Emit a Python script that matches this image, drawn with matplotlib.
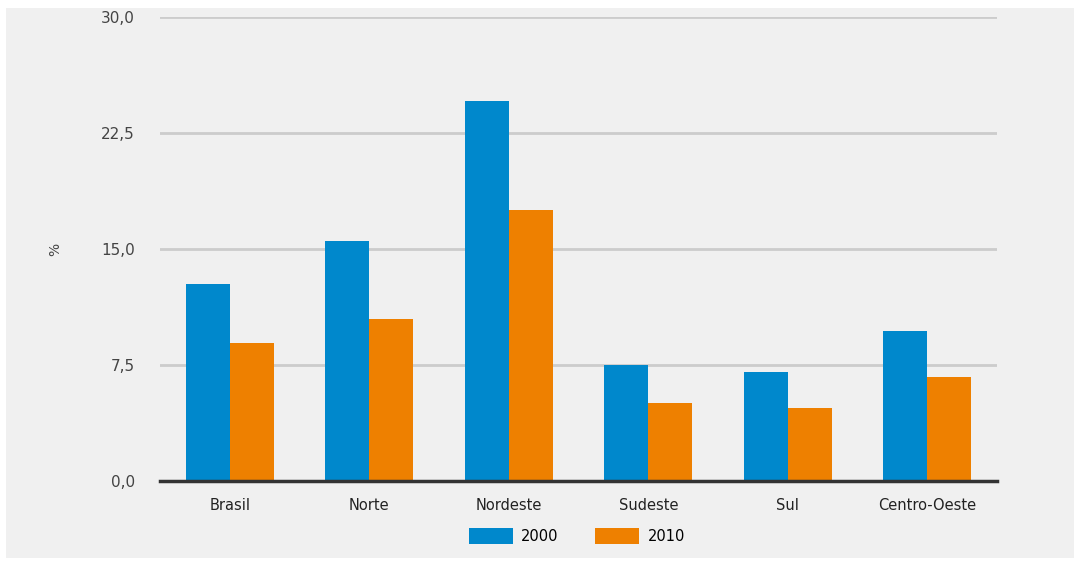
import numpy as np
import matplotlib.pyplot as plt
from matplotlib.patches import Rectangle, Patch
from matplotlib.ticker import FuncFormatter

regioes = ["Brasil", "Norte", "Nordeste", "Sudeste", "Sul", "Centro-Oeste"]
v2000 = [12.75, 15.5, 24.6, 7.5, 7.05, 9.7]
v2010 = [8.9, 10.5, 17.5, 5.05, 4.7, 6.7]
anos = ["2000", "2010"]
cores = ["#0088cc", "#ee8000"]

fig = plt.figure(figsize=(10.74, 5.63), dpi=100, facecolor="white")
# fundo cinza do quadro
fig.patches.append(Rectangle((6/1074, 5/563), 1 - 6/1074, 1 - 13/563,
                             transform=fig.transFigure, facecolor="#f0f0f0",
                             edgecolor="none", zorder=-10))

ax = fig.add_axes([160/1074, 1 - 481/563, 837/1074, 464/563])
ax.set_facecolor("none")

x = np.arange(len(regioes))
w = 0.315
ax.bar(x - w/2, v2000, w, color=cores[0], zorder=3)
ax.bar(x + w/2, v2010, w, color=cores[1], zorder=3)

ax.set_xlim(-0.5, len(regioes) - 0.5)
ax.set_ylim(0, 30)
ax.set_yticks([0, 7.5, 15, 22.5, 30])
ax.yaxis.set_major_formatter(FuncFormatter(lambda v, p: f"{v:.1f}".replace(".", ",")))
ax.grid(axis="y", color="#cccccc", linewidth=2, zorder=0)
ax.set_axisbelow(True)

for s in ["top", "right", "left"]:
    ax.spines[s].set_visible(False)
ax.spines["bottom"].set_color("#333333")
ax.spines["bottom"].set_linewidth(2.5)
ax.spines["bottom"].set_zorder(4)

ax.set_xticks(x)
ax.set_xticklabels(regioes)
ax.tick_params(axis="x", length=0, pad=12, labelsize=10.5, labelcolor="#222222")
ax.tick_params(axis="y", length=0, pad=18, labelsize=11, labelcolor="#444444")

fig.text(55/1074, 1 - 249/563, "%", rotation=90, ha="center", va="center",
         fontsize=10, color="#444444")

handles = [Patch(facecolor=c, edgecolor="none") for c in cores]
fig.legend(handles, anos, loc="center", bbox_to_anchor=(577/1074, 1 - 536/563),
           ncol=2, frameon=False, fontsize=10.5, handlelength=3, handleheight=1.4,
           columnspacing=2.5, handletextpad=0.6)

fig.savefig("out.png", dpi=100, facecolor="white")
